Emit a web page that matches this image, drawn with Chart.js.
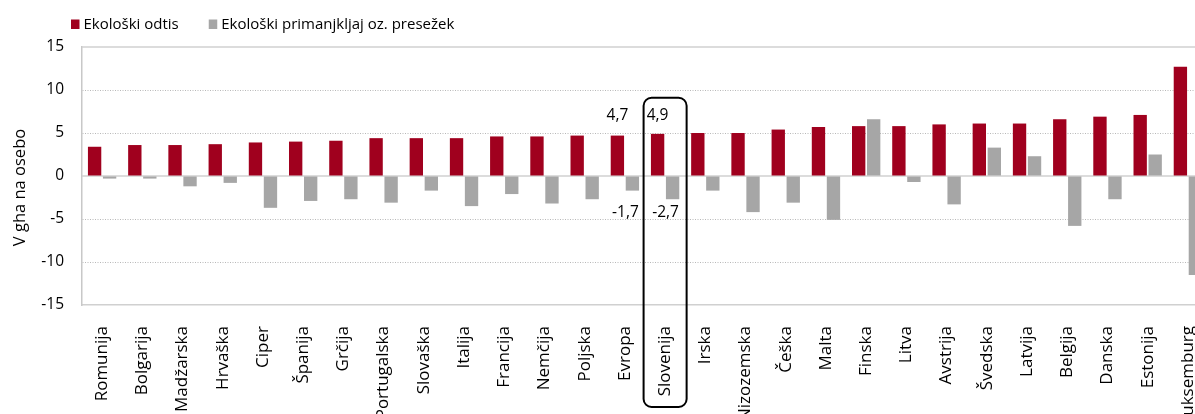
<!DOCTYPE html>
<html>
<head>
<meta charset="utf-8">
<script src="https://cdn.jsdelivr.net/npm/chart.js@4.4.1/dist/chart.umd.min.js"></script>
<style>
  html, body { margin: 0; padding: 0; background: #fff; overflow: hidden; }
  #wrap { width: 1208px; height: 414px; }
</style>
</head>
<body>
<div id="wrap"><canvas id="c" width="1208" height="414"></canvas></div>
<script>
// ---- data ----
const categories = ['Romunija','Bolgarija','Madžarska','Hrvaška','Ciper','Španija','Grčija','Portugalska','Slovaška','Italija','Francija','Nemčija','Poljska','Evropa','Slovenija','Irska','Nizozemska','Češka','Malta','Finska','Litva','Avstrija','Švedska','Latvija','Belgija','Danska','Estonija','Luksemburg'];
const footprint = [3.4,3.6,3.6,3.7,3.9,4.0,4.1,4.4,4.4,4.4,4.6,4.6,4.7,4.7,4.9,5.0,5.0,5.4,5.7,5.8,5.8,6.0,6.1,6.1,6.6,6.9,7.1,12.7];
const balance = [-0.3,-0.3,-1.2,-0.8,-3.7,-2.9,-2.7,-3.1,-1.7,-3.5,-2.1,-3.2,-2.7,-1.7,-2.7,-1.7,-4.2,-3.1,-5.1,6.6,-0.7,-3.3,3.3,2.3,-5.8,-2.7,2.5,-11.5];
const seriesNames = ['Ekološki odtis','Ekološki primanjkljaj oz. presežek'];
const yTicks = [-15,-10,-5,0,5,10,15];
const labelledCategories = ['Evropa','Slovenija'];
const highlightCategory = 'Slovenija';
const yTitle = 'V gha na osebo';

const FONT = "'Open Sans', 'Noto Sans', sans-serif";
const RED = '#A0001E';
const GREY = '#A6A6A6';
const fmt = v => v.toFixed(1).replace('.', ',');

const decor = {
  id: 'decor',
  beforeDatasetsDraw(chart) {
    const {ctx, chartArea: a, scales: {y}} = chart;
    ctx.save();
    ctx.strokeStyle = '#d0d0d0';
    ctx.lineWidth = 1.5;
    [yTicks[yTicks.length - 1], 0].forEach(v => {
      const py = y.getPixelForValue(v);
      ctx.beginPath(); ctx.moveTo(a.left, py); ctx.lineTo(a.right, py); ctx.stroke();
    });
    ctx.restore();
  },
  afterDatasetsDraw(chart) {
    const {ctx, scales: {y}} = chart;
    ctx.save();
    ctx.font = '15.5px ' + FONT;
    ctx.fillStyle = '#000';
    ctx.textAlign = 'center';
    ctx.textBaseline = 'middle';
    labelledCategories.forEach(name => {
      const i = categories.indexOf(name);
      const b0 = chart.getDatasetMeta(0).data[i];
      const b1 = chart.getDatasetMeta(1).data[i];
      ctx.fillText(fmt(footprint[i]), b0.x, y.getPixelForValue(7));
      ctx.fillText(fmt(balance[i]), b1.x - 7, y.getPixelForValue(-4.3));
    });
    ctx.restore();
  },
  afterDraw(chart) {
    const {ctx, chartArea: a, scales: {x, y}} = chart;
    ctx.save();
    // y-axis title
    ctx.save();
    ctx.font = '16.5px ' + FONT;
    ctx.fillStyle = '#000';
    ctx.textAlign = 'center';
    ctx.textBaseline = 'middle';
    ctx.translate(20, (a.top + a.bottom) / 2 + 11.5);
    ctx.rotate(-Math.PI / 2);
    ctx.fillText(yTitle, 0, 0);
    ctx.restore();
    // legend
    ctx.font = '15px ' + FONT;
    ctx.textBaseline = 'middle';
    ctx.textAlign = 'left';
    let lx = 71;
    chart.data.datasets.forEach(ds => {
      ctx.fillStyle = ds.backgroundColor;
      ctx.fillRect(lx, 19.5, 8.5, 9.5);
      ctx.fillStyle = '#000';
      ctx.fillText(ds.label, lx + 12.5, 24.5);
      lx += 12.5 + ctx.measureText(ds.label).width + 30;
    });
    // highlight box
    const i = categories.indexOf(highlightCategory);
    const cx = x.getPixelForValue(i);
    const w = x.width / categories.length;
    const l = cx - 0.535 * w, r = cx + 0.535 * w;
    const t = y.getPixelForValue(9.1), btm = chart.height - 7;
    const rad = 8;
    ctx.strokeStyle = '#000';
    ctx.lineWidth = 2;
    ctx.beginPath();
    ctx.moveTo(l + rad, t);
    ctx.arcTo(r, t, r, btm, rad);
    ctx.arcTo(r, btm, l, btm, rad);
    ctx.arcTo(l, btm, l, t, rad);
    ctx.arcTo(l, t, r, t, rad);
    ctx.closePath();
    ctx.stroke();
    ctx.restore();
  }
};

new Chart(document.getElementById('c'), {
  type: 'bar',
  data: {
    labels: categories,
    datasets: [
      { label: seriesNames[0], data: footprint, backgroundColor: RED, borderWidth: 0,
        categoryPercentage: 0.746, barPercentage: 0.89 },
      { label: seriesNames[1], data: balance, backgroundColor: GREY, borderWidth: 0,
        categoryPercentage: 0.746, barPercentage: 0.89 }
    ]
  },
  options: {
    responsive: false,
    devicePixelRatio: 1,
    animation: false,
    layout: { padding: { top: 47, left: 0, right: 0, bottom: 0 } },
    plugins: { legend: { display: false }, tooltip: { enabled: false } },
    scales: {
      x: {
        grid: { display: false },
        border: { display: true, color: '#d0d0d0', width: 1.5 },
        ticks: {
          autoSkip: false, minRotation: 90, maxRotation: 90, padding: 13,
          color: '#000', font: { family: FONT, size: 17 }
        },
        afterFit: s => { s.height = 109; s.paddingLeft = 0; s.paddingRight = 0; }
      },
      y: {
        min: yTicks[0], max: yTicks[yTicks.length - 1],
        afterBuildTicks: s => { s.ticks = yTicks.map(v => ({ value: v })); },
        grid: {
          drawTicks: false,
          lineWidth: 1,
          color: c => (c.tick && (c.tick.value === 0 || Math.abs(c.tick.value) === 15)) ? 'rgba(0,0,0,0)' : '#b8b8b8'
        },
        border: { display: true, color: '#c8c8c8', width: 1.5, dash: [1, 1.5] },
        ticks: { padding: 18, color: '#000', font: { family: FONT, size: 15.5 } },
        title: { display: false },
        afterFit: s => { s.width = 82; s.paddingTop = 0; s.paddingBottom = 0; }
      }
    }
  },
  plugins: [decor]
});
</script>
</body>
</html>
